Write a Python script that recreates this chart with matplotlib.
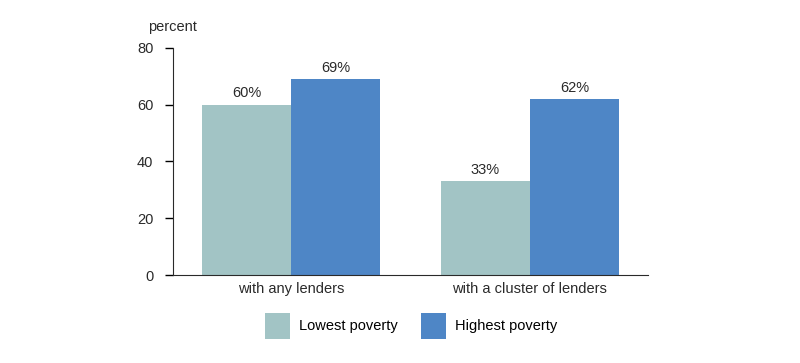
import matplotlib.pyplot as plt
import numpy as np

plt.rcParams['font.family'] = ['Liberation Sans', 'DejaVu Sans']

categories = ['with any lenders', 'with a cluster of lenders']
lowest = [60, 33]
highest = [69, 62]
labels_low = ['60%', '33%']
labels_high = ['69%', '62%']

c_low = '#a2c4c5'
c_high = '#4e86c6'
txt = '#2a2a2a'
fs = 10.5

fig = plt.figure(figsize=(8, 3.63), dpi=100)
ax = fig.add_axes([0.216, 0.2424, 0.594, 0.6254])

x = np.arange(len(categories))
w = 0.372
b1 = ax.bar(x - w/2, lowest, w, color=c_low, label='Lowest poverty')
b2 = ax.bar(x + w/2, highest, w, color=c_high, label='Highest poverty')

for bars, labs in ((b1, labels_low), (b2, labels_high)):
    for b, t in zip(bars, labs):
        ax.text(b.get_x() + b.get_width()/2, b.get_height() + 1.5, t,
                ha='center', va='bottom', fontsize=fs, color=txt)

ax.set_xlim(-0.494, 1.494)
ax.set_ylim(0, 80)
ax.set_yticks([0, 20, 40, 60, 80])
ax.set_xticks(x)
ax.set_xticklabels(categories, fontsize=fs, color=txt)
ax.tick_params(axis='x', length=0, pad=5)
ax.tick_params(axis='y', length=6, width=1, labelsize=fs, labelcolor=txt, pad=8)
ax.spines['top'].set_visible(False)
ax.spines['right'].set_visible(False)
ax.spines['left'].set_color(txt)
ax.spines['bottom'].set_color(txt)

fig.text(148/800, 1 - 27/363, 'percent', fontsize=fs, color=txt, va='center')

fig.legend(handles=[b1, b2], loc='center', bbox_to_anchor=(411/800, 1 - 326/363),
           ncol=2, frameon=False, fontsize=fs, handlelength=1.75, handleheight=2.4,
           handletextpad=0.6, columnspacing=1.6)

fig.savefig('out.png', dpi=100)
